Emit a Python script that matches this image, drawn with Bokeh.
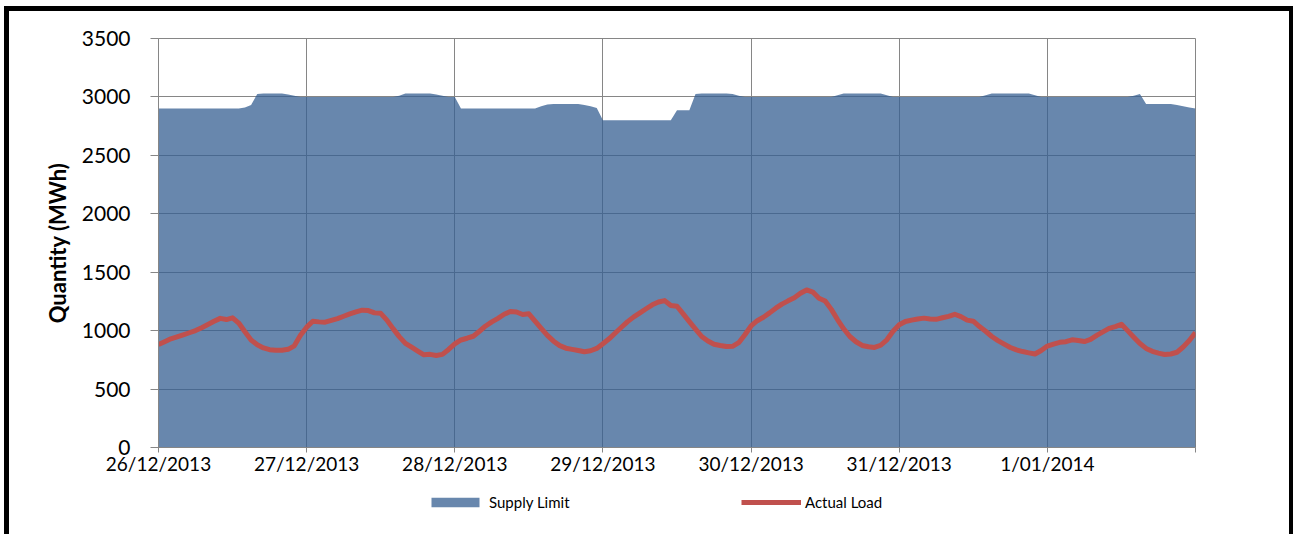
from bokeh.plotting import figure
from bokeh.layouts import column
from bokeh.models import Range1d, FixedTicker, Legend, LegendItem, ColumnDataSource
from bokeh.embed import file_html
from bokeh.resources import INLINE

# ---------------- data (hourly, 26/12/2013 00:00 .. 2/01/2014 00:00) ----------------
day_labels = ["26/12/2013", "27/12/2013", "28/12/2013", "29/12/2013",
              "30/12/2013", "31/12/2013", "1/01/2014", ""]

supply_d26 = [2900]*14 + [2910, 2930, 3025, 3030, 3030, 3030, 3030, 3020, 3010, 3000]
supply_d27 = [3000]*15 + [3010, 3030, 3030, 3030, 3030, 3030, 3020, 3010, 3000]
supply_d28 = [3000] + [2900]*13 + [2920, 2935, 2940, 2940, 2940, 2940, 2940, 2930, 2920, 2905]
supply_d29 = [2800]*12 + [2885, 2885, 2885, 3025, 3030, 3030, 3030, 3030, 3030, 3025, 3010, 3000]
supply_d30 = [3000]*14 + [3015, 3030, 3030, 3030, 3030, 3030, 3030, 3030, 3015, 3000]
supply_d31 = [3000]*14 + [3015, 3030, 3030, 3030, 3030, 3030, 3030, 3030, 3015, 3000]
supply_d01 = [3000]*14 + [3010, 3025, 2940, 2940, 2940, 2940, 2940, 2930, 2920, 2910, 2900]

load_d26 = [881, 905, 930, 947, 964, 982, 1001, 1025, 1052, 1080, 1105, 1095,
            1110, 1065, 990, 920, 879, 852, 837, 832, 832, 840, 870, 960]
load_d27 = [1030, 1080, 1075, 1072, 1088, 1103, 1123, 1143, 1160, 1175, 1172, 1152,
            1148, 1090, 1017, 949, 891, 858, 825, 793, 797, 788, 797, 839]
load_d28 = [887, 920, 935, 952, 995, 1040, 1075, 1105, 1140, 1164, 1160, 1138,
            1144, 1082, 1020, 960, 910, 872, 850, 840, 830, 820, 828, 848]
load_d29 = [888, 930, 980, 1029, 1077, 1118, 1152, 1187, 1221, 1245, 1257, 1215,
            1209, 1143, 1077, 1013, 950, 912, 884, 873, 864, 866, 897, 965]
load_d30 = [1040, 1085, 1115, 1152, 1192, 1227, 1255, 1281, 1320, 1348, 1330, 1277,
            1254, 1182, 1095, 1016, 950, 905, 873, 862, 856, 875, 922, 995]
load_d31 = [1050, 1078, 1090, 1100, 1107, 1100, 1097, 1110, 1122, 1140, 1120, 1090,
            1081, 1035, 995, 950, 915, 885, 856, 835, 821, 810, 800, 830]
load_d01 = [868, 885, 900, 905, 922, 915, 907, 925, 960, 990, 1020, 1035,
            1055, 1000, 944, 890, 848, 823, 808, 796, 800, 815, 860, 915, 984]

supply = supply_d26 + supply_d27 + supply_d28 + supply_d29 + supply_d30 + supply_d31 + supply_d01
load = load_d26 + load_d27 + load_d28 + load_d29 + load_d30 + load_d31 + load_d01
hours = list(range(len(load)))          # hours since 26/12/2013 00:00
day_ticks = list(range(0, 169, 24))
y_ticks = list(range(0, 3501, 500))
series_names = ["Supply Limit", "Actual Load"]

src = ColumnDataSource(dict(h=hours, supply=supply, load=load, zero=[0]*len(hours)))

FONT = "Lato"
GRID = "#868686"
AREA_COLOR = "#365F91"
LINE_COLOR = "#C0504D"

p = figure(frame_width=1037, frame_height=409, output_backend="svg", toolbar_location=None,
           x_range=Range1d(0, 168), y_range=Range1d(0, 3500),
           min_border_left=158, min_border_right=98, min_border_top=38, min_border_bottom=40,
           background_fill_color="white", border_fill_color=None,
           outline_line_color=GRID)
p.styles = {"box-shadow": ("inset 0 6px 0 0 #fff, inset 4px 0 0 0 #fff, "
                           "inset 0 11px 0 0 #000, inset 9px 0 0 0 #000, inset -4px 0 0 0 #000")}

area = p.varea(x="h", y1="zero", y2="supply", source=src, fill_color=AREA_COLOR, fill_alpha=0.75)
line = p.line(x="h", y="load", source=src, line_color=LINE_COLOR, line_width=5, line_join="round")

# axes
p.xaxis.ticker = FixedTicker(ticks=day_ticks)
p.xaxis.major_label_overrides = {t: lab for t, lab in zip(day_ticks, day_labels)}
p.yaxis.ticker = FixedTicker(ticks=y_ticks)
for ax in (p.xaxis, p.yaxis):
    ax.axis_line_color = GRID
    ax.major_tick_line_color = GRID
    ax.minor_tick_line_color = None
    ax.major_tick_in = 0
    ax.major_label_text_font = FONT
    ax.major_label_text_color = "black"
p.xaxis.major_tick_out = 5
p.xaxis.major_label_text_font_size = "19px"
p.xaxis.major_label_standoff = -1
p.yaxis.major_tick_out = 8
p.yaxis.major_label_text_font_size = "21px"
p.yaxis.major_label_standoff = 20
p.yaxis.axis_label = "Quantity (MWh)"
p.yaxis.axis_label_text_font = FONT
p.yaxis.axis_label_text_font_size = "22px"
p.yaxis.axis_label_text_font_style = "bold"
p.yaxis.axis_label_text_color = "black"
p.yaxis.axis_label_standoff = 8

p.xgrid.ticker = FixedTicker(ticks=day_ticks)
p.ygrid.ticker = FixedTicker(ticks=y_ticks)
p.grid.grid_line_color = GRID
p.grid.grid_line_width = 1

# ---------------- legend strip below the chart ----------------
lg = figure(width=1293, height=47, output_backend="svg", toolbar_location=None,
            x_range=Range1d(0, 1), y_range=Range1d(0, 1),
            x_axis_type=None, y_axis_type=None,
            min_border_left=0, min_border_right=0, min_border_top=0, min_border_bottom=0,
            background_fill_color=None, border_fill_color=None, outline_line_color=None)
lg.styles = {"box-shadow": "inset 4px 0 0 0 #fff, inset 9px 0 0 0 #000, inset -4px 0 0 0 #000"}
# proxy renderers (placed outside the visible range) that only provide the legend swatches
lg_area = lg.varea(x=[5, 6], y1=[0, 0], y2=[1, 1], fill_color=AREA_COLOR, fill_alpha=0.75)
lg_line = lg.line(x=[5, 6], y=[0.5, 0.5], line_color=LINE_COLOR, line_width=5)

legend = Legend(items=[LegendItem(label=series_names[0], renderers=[lg_area]),
                       LegendItem(label=series_names[1], renderers=[lg_line])],
                location=(267, 23), orientation="horizontal",
                glyph_width=60, glyph_height=12, label_standoff=4, spacing=129,
                label_text_font=FONT, label_text_font_size="15px", label_text_color="black",
                border_line_color=None, background_fill_alpha=0, padding=0, margin=0,
                label_height=12, label_width=123)
lg.add_layout(legend)

layout = column(p, lg, spacing=0)
open("out.html", "w").write(file_html(layout, INLINE))
